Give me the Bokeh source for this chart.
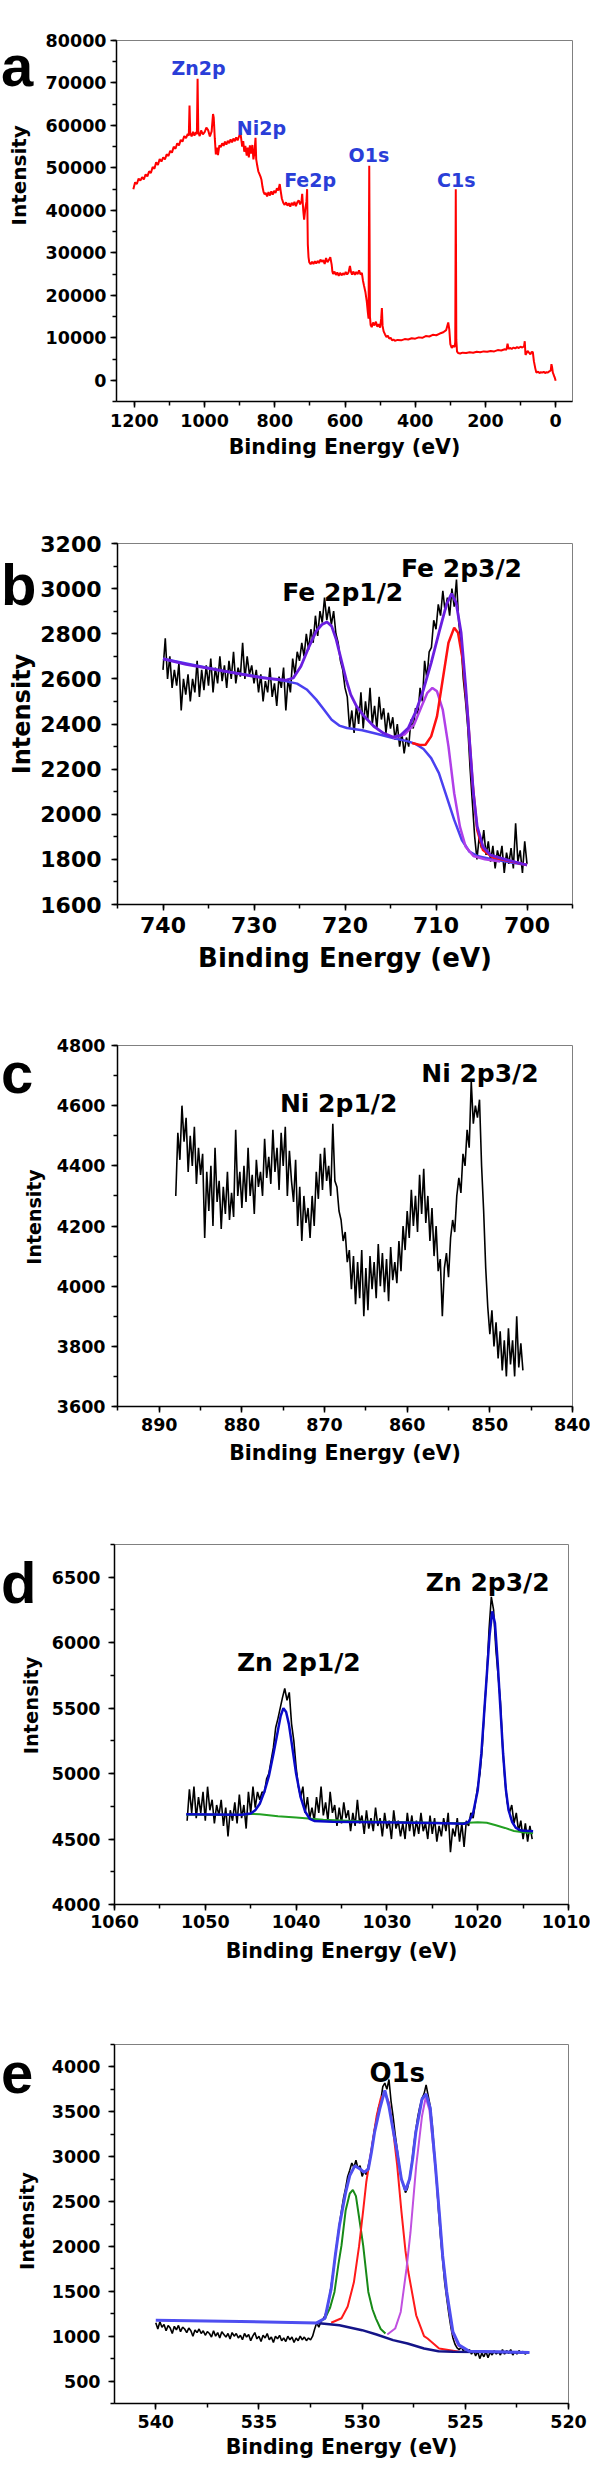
import math
import numpy as np
from bokeh.plotting import figure
from bokeh.models import Range1d, SingleIntervalTicker, BasicTickFormatter
from bokeh.layouts import column, row
from bokeh.core.properties import value
from bokeh.embed import file_html
from bokeh.resources import INLINE

# ---------------------------------------------------------------- data
# (a) survey spectrum
a_energy = [
    1203, 1198, 1193, 1188, 1183, 1178, 1173, 1168, 1163, 1158,
    1153, 1148, 1143, 1138, 1133, 1128, 1123, 1118, 1113, 1108,
    1103, 1098, 1093, 1088, 1083, 1078, 1073, 1068, 1063, 1058,
    1053, 1048, 1045, 1043, 1041, 1037, 1033, 1029, 1025, 1022,
    1020, 1018, 1014, 1010, 1005, 1000, 995, 990, 985, 980,
    976, 974, 971, 968, 965, 962, 958, 954, 950, 946,
    942, 938, 934, 930, 926, 922, 918, 914, 910, 906,
    902, 898, 896, 893, 890, 887, 884, 880, 877, 874,
    871, 868, 864, 861, 858, 855, 853, 850, 847, 844,
    841, 838, 835, 832, 829, 826, 822, 818, 814, 810,
    806, 802, 798, 794, 790, 786, 783, 780, 776, 772,
    768, 764, 760, 756, 752, 748, 744, 740, 736, 732,
    728, 724, 722, 719, 716.5, 713, 710, 708, 706, 704,
    702, 698, 694, 690, 686, 682, 678, 674, 670, 666,
    662, 658, 654, 650, 646, 642, 638, 636, 634, 630,
    626, 622, 618, 614, 610, 606, 602, 598, 594, 590,
    586, 583, 580, 576, 572, 568, 564, 560, 556, 552,
    549, 546, 542, 538, 535, 533, 531, 529, 527, 524,
    520, 516, 512, 508, 504, 500, 497, 495, 493, 490,
    486, 482, 478, 474, 470, 466, 462, 458, 450, 440,
    430, 420, 410, 400, 390, 380, 370, 360, 350, 340,
    330, 320, 312, 306, 303, 300, 296, 292, 288, 286,
    284.5, 283, 281, 278, 272, 265, 255, 245, 235, 225,
    215, 205, 195, 185, 175, 165, 155, 145, 140, 137,
    134, 130, 125, 120, 115, 110, 105, 100, 95, 90,
    88, 86, 84, 80, 76, 72, 68, 65, 62, 58,
    55, 50, 46, 42, 38, 34, 30, 26, 22, 18,
    14, 12, 10, 8, 6, 4, 2, 0,
]
a_intensity = [
    45000, 46600, 46200, 47500, 47000, 47800, 47300, 48500, 48000, 49200,
    48800, 50200, 49800, 51300, 50700, 52100, 51500, 52500, 52000, 53200,
    52800, 54000, 53600, 55000, 54500, 55800, 55300, 56600, 56200, 57500,
    57000, 58000, 57600, 64700, 58200, 57400, 58500, 57600, 58400, 57900,
    71000, 58400, 57500, 58800, 57900, 58400, 59500, 58900, 57400, 58600,
    62700, 61800, 57000, 53200, 54800, 53000, 55300, 54900, 55800, 55200,
    56200, 55500, 56400, 55800, 56700, 56000, 56900, 56300, 57200, 56500,
    57400, 58300, 57000, 55000, 56300, 53800, 55200, 52900, 54800, 52500,
    55300, 53400, 55400, 52000, 53600, 57100, 52000, 50500, 49200, 48600,
    48000, 47200, 45500, 44300, 43800, 44100, 43300, 44300, 43500, 44500,
    43700, 44600, 44100, 45200, 44700, 46200, 44400, 42800, 41800, 41300,
    41900, 41100, 41700, 40900, 41800, 41200, 42000, 41000, 41900, 42400,
    41400, 42200, 43900, 40000, 37800, 40500, 42000, 45000, 32000, 29000,
    27800, 27300, 27900, 27400, 28000, 27500, 28100, 27600, 28400, 27900,
    28300, 27400, 28800, 27800, 28300, 29000, 27200, 25600, 25000, 25600,
    24800, 25400, 24600, 25300, 24700, 25200, 24800, 25500, 24900, 25400,
    26900, 25500, 24900, 25600, 24800, 25500, 25000, 25900, 24900, 25300,
    23500, 22300, 20800, 18500, 16000, 14500, 50500, 15000, 13000, 12500,
    13600, 12900, 13800, 12600, 13200, 12400, 14500, 17000, 12800, 11500,
    10800, 10200, 10500, 9800, 10000, 9400, 9600, 9300, 9500, 9400,
    9700, 9600, 9900, 9800, 10100, 10000, 10400, 10300, 10700, 10600,
    11000, 11300, 11800, 13600, 12000, 8500, 7600, 8200, 7800, 9000,
    45000, 9500, 6800, 6400, 6300, 6500, 6400, 6600, 6500, 6700,
    6600, 6800, 6700, 6900, 6800, 7100, 7000, 7300, 7200, 8600,
    7400, 7600, 7400, 7700, 7500, 7800, 7600, 7900, 7700, 8000,
    9200, 6000, 6200, 6900, 6500, 6100, 6700, 6600, 4500, 2800,
    1800, 2000, 1700, 1900, 1800, 2000, 1700, 1900, 1800, 2100,
    2300, 3800, 3000, 1800, 1400, 900, 500, -100,
]
a_peak_names = ["Zn2p", "Ni2p", "Fe2p", "O1s", "C1s"]
a_peak_energy = [1017.2, 838.3, 699.5, 532.0, 282.9]
a_peak_level = [73570, 59430, 47260, 53150, 47260]

# (b) Fe 2p: raw counts, 740 -> 700 eV every 0.25 eV
b_start, b_stop = 740.0, 700.0
b_counts = [
    2640, 2780, 2600, 2700, 2560, 2640, 2570, 2670, 2460, 2600,
    2530, 2620, 2500, 2600, 2540, 2680, 2520, 2640, 2550, 2660,
    2570, 2690, 2540, 2650, 2580, 2700, 2590, 2660, 2560, 2680,
    2600, 2720, 2580, 2650, 2610, 2760, 2600, 2700, 2620, 2660,
    2580, 2640, 2540, 2620, 2500, 2590, 2540, 2650, 2520, 2580,
    2480, 2610, 2560, 2650, 2460, 2600, 2540, 2690, 2620, 2720,
    2680, 2760, 2700, 2800, 2730, 2820, 2760, 2880, 2790, 2900,
    2850, 2960, 2860, 2920, 2840, 2900, 2800, 2760, 2680, 2640,
    2560, 2520, 2380, 2460, 2360, 2480, 2400, 2540, 2380, 2500,
    2420, 2560, 2400, 2480, 2380, 2520, 2420, 2470, 2360, 2450,
    2380, 2430, 2330, 2400, 2300, 2360, 2270, 2340, 2300, 2420,
    2380, 2470, 2440, 2560, 2500, 2680, 2600, 2720, 2740, 2860,
    2820, 2930, 2880, 2990, 2900, 2960, 2880, 3000, 2920, 3040,
    2850, 2760, 2600, 2500, 2380, 2200, 2050, 1900, 1800, 1900,
    1850, 1930, 1820, 1880, 1790, 1860, 1760, 1840, 1800, 1860,
    1740, 1830, 1780, 1850, 1760, 1960, 1790, 1840, 1740, 1880,
    1780,
]
b_env_e = [740.0, 737.47, 733.26, 729.05, 726.53, 725.68, 724.84, 724.0, 723.16, 722.53,
           721.98, 721.47, 720.97, 720.42, 719.87, 719.37, 718.74, 717.89, 716.84, 715.79,
           714.74, 713.89, 713.05, 712.21, 711.37, 710.53, 709.68, 708.84, 708.29, 707.79,
           707.24, 706.74, 706.32, 705.89, 705.47, 704.84, 704.0, 702.11, 700.0]
b_env_i = [2689, 2664, 2634, 2604, 2594, 2604, 2656, 2738, 2812, 2841,
           2852, 2834, 2775, 2686, 2597, 2530, 2479, 2434, 2390, 2360,
           2342, 2350, 2382, 2456, 2553, 2671, 2804, 2930, 2978, 2938,
           2804, 2567, 2330, 2093, 1945, 1856, 1819, 1797, 1775]
b_bg_e = [740.0, 733.26, 726.53, 725.26, 724.21, 723.16, 722.32, 721.47, 720.63, 719.79,
          718.11, 716.42, 714.74, 713.05, 712.21, 711.37, 710.53, 709.68, 708.84, 708.0,
          707.16, 706.32, 705.47, 703.79, 700.0]
b_bg_i = [2689, 2634, 2590, 2579, 2553, 2508, 2464, 2419, 2393, 2382,
          2372, 2356, 2338, 2323, 2311, 2289, 2249, 2182, 2079, 1975,
          1886, 1834, 1815, 1800, 1775]
b_main_e = [712.63, 711.79, 711.16, 710.53, 709.89, 709.26, 708.63, 708.0, 707.58, 707.07,
            706.53, 705.98, 705.47, 704.84, 703.79, 700.0]
b_main_i = [2316, 2307, 2308, 2345, 2434, 2597, 2760, 2827, 2804, 2686,
            2449, 2138, 1930, 1841, 1809, 1775]
b_sat_e = [714.74, 713.47, 712.42, 711.58, 710.95, 710.4, 709.89, 709.26, 708.63, 708.0,
           707.37, 706.74, 705.89, 704.63, 702.95]
b_sat_i = [2338, 2353, 2397, 2479, 2538, 2560, 2545, 2464, 2301, 2093,
           1945, 1856, 1815, 1800, 1790]

# (c) Ni 2p: raw counts, 888 -> 846 eV every 0.25 eV
c_start, c_stop = 888.0, 846.0
c_counts = [
    4300, 4510, 4420, 4600, 4480, 4560, 4380, 4500, 4400, 4530,
    4340, 4460, 4370, 4440, 4160, 4380, 4250, 4400, 4200, 4460,
    4280, 4350, 4190, 4330, 4240, 4380, 4220, 4310, 4230, 4520,
    4300, 4380, 4260, 4400, 4280, 4460, 4300, 4370, 4240, 4420,
    4330, 4380, 4300, 4490, 4360, 4430, 4340, 4520, 4380, 4460,
    4320, 4510, 4400, 4530, 4300, 4450, 4350, 4280, 4420, 4200,
    4330, 4150, 4300, 4210, 4260, 4160, 4300, 4200, 4380, 4290,
    4440, 4320, 4460, 4350, 4400, 4300, 4540, 4350, 4330, 4250,
    4220, 4150, 4180, 4080, 4120, 3990, 4100, 3940, 4080, 3960,
    4120, 3900, 4060, 3920, 4100, 3990, 4080, 3960, 4140, 4000,
    4110, 3980, 4090, 3950, 4130, 4020, 4080, 4010, 4150, 4050,
    4200, 4120, 4250, 4160, 4320, 4200, 4300, 4180, 4370, 4240,
    4390, 4210, 4300, 4150, 4260, 4100, 4200, 4050, 4090, 3900,
    4060, 4110, 4030, 4160, 4220, 4180, 4300, 4360, 4310, 4440,
    4400, 4520, 4460, 4680, 4540, 4600, 4560, 4620, 4400, 4250,
    4060, 3930, 3840, 3920, 3800, 3880, 3760, 3850, 3720, 3820,
    3700, 3860, 3740, 3820, 3700, 3900, 3730, 3810, 3720,
]

# (d) Zn 2p: raw counts, 1052 -> 1014 eV every 0.25 eV
d_start, d_stop = 1052.0, 1014.0
d_counts = [
    4640, 4880, 4700, 4900, 4660, 4820, 4700, 4860, 4640, 4900,
    4720, 4800, 4620, 4760, 4680, 4800, 4600, 4740, 4520, 4720,
    4640, 4780, 4620, 4840, 4660, 4760, 4580, 4860, 4700, 4900,
    4740, 4860, 4800, 4860, 4850, 4960, 5000, 5100, 5200, 5350,
    5420, 5500, 5580, 5650, 5560, 5620, 5380, 5250, 5050, 4900,
    4820, 4900, 4700, 4820, 4660, 4740, 4640, 4820, 4700, 4900,
    4680, 4780, 4640, 4860, 4700, 4760, 4600, 4740, 4620, 4780,
    4660, 4720, 4560, 4700, 4600, 4800, 4620, 4680, 4540, 4720,
    4580, 4660, 4560, 4740, 4600, 4660, 4520, 4700, 4580, 4640,
    4500, 4720, 4580, 4640, 4520, 4620, 4500, 4700, 4560, 4680,
    4520, 4640, 4540, 4700, 4560, 4620, 4500, 4680, 4540, 4660,
    4480, 4600, 4520, 4660, 4560, 4700, 4400, 4580, 4520, 4660,
    4480, 4620, 4440, 4640, 4600, 4700, 4660, 4780, 4900, 5000,
    5200, 5500, 5750, 6100, 6350, 6250, 5950, 5750, 5550, 5200,
    4950, 4780, 4700, 4760, 4620, 4700, 4560, 4640, 4500, 4620,
    4480, 4600, 4500,
]
d_fit_e = [1052.1, 1049.0, 1046.0, 1045.0, 1044.5, 1044.0, 1043.5, 1043.0, 1042.5, 1042.0,
           1041.7, 1041.4, 1041.1, 1040.8, 1040.5, 1040.0, 1039.5, 1039.0, 1038.5, 1038.0,
           1036.0, 1031.0, 1025.0, 1021.5, 1021.0, 1020.5, 1020.0, 1019.6, 1019.3, 1019.0,
           1018.7, 1018.4, 1018.1, 1017.8, 1017.5, 1017.2, 1016.9, 1016.6, 1016.2, 1015.8,
           1015.2, 1013.9]
d_fit_i = [4690, 4688, 4686, 4695, 4720, 4770, 4860, 4980, 5150, 5330,
           5440, 5500, 5470, 5380, 5240, 5000, 4820, 4710, 4655, 4638,
           4633, 4628, 4622, 4617, 4630, 4700, 4870, 5150, 5450, 5750,
           6050, 6240, 6150, 5850, 5500, 5150, 4880, 4720, 4630, 4585,
           4565, 4560]
d_bg_e = [1052.1, 1046.0, 1045.0, 1044.0, 1042.0, 1040.0, 1037.0, 1033.0, 1028.0, 1022.0,
          1021.0, 1020.0, 1019.0, 1018.0, 1017.0, 1016.0, 1015.0, 1013.9]
d_bg_i = [4686, 4686, 4692, 4690, 4675, 4664, 4648, 4635, 4628, 4620,
          4625, 4628, 4624, 4605, 4585, 4562, 4552, 4545]

# (e) O 1s: raw counts, 540 -> 522 eV every 0.1 eV
e_start, e_stop = 540.0, 522.0
e_counts = [
    1150, 1080, 1160, 1100, 1130, 1060, 1120, 1090, 1030, 1110,
    1070, 1120, 1050, 1100, 1080, 1040, 1090, 1060, 1000, 1070,
    1040, 1080, 1030, 1060, 1010, 1050, 1030, 990, 1060, 1000,
    1040, 980, 1050, 1020, 990, 1030, 970, 1040, 1000, 1030,
    980, 1010, 960, 1030, 990, 1020, 950, 1000, 1040, 970,
    1000, 940, 1010, 980, 1030, 960, 990, 930, 1000, 970,
    1010, 950, 980, 940, 1000, 960, 990, 930, 980, 950,
    1000, 960, 990, 950, 980, 960, 1000, 1080, 1150, 1100,
    1160, 1190, 1230, 1300, 1420, 1560, 1720, 1900, 2080, 2250,
    2400, 2540, 2650, 2780, 2850, 2930, 2880, 2960, 2870, 2900,
    2780, 2840, 2800, 2900, 3000, 3150, 3300, 3420, 3550, 3620,
    3780, 3820, 3750, 3860, 3620, 3450, 3250, 3080, 2900, 2760,
    2680, 2600, 2650, 2760, 2920, 3120, 3300, 3450, 3560, 3650,
    3700, 3800, 3680, 3560, 3350, 3050, 2750, 2400, 2100, 1850,
    1600, 1420, 1250, 1100, 980, 910, 870, 850, 880, 840,
    860, 830, 850, 800, 840, 780, 830, 750, 810, 770,
    830, 760, 820, 790, 840, 800, 830, 790, 850, 800,
    840, 810, 850, 790, 830, 800, 840, 810, 830, 800,
    820,
]
e_env_e = [540.0, 535.9, 532.2, 531.8, 531.5, 531.3, 531.1, 530.8, 530.6, 530.35,
           530.1, 529.9, 529.7, 529.55, 529.4, 529.15, 528.9, 528.7, 528.5, 528.3,
           528.1, 527.9, 527.7, 527.55, 527.4, 527.1, 526.9, 526.7, 526.45, 526.25,
           526.1, 525.9, 525.6, 525.3, 524.8, 521.9]
e_env_i = [1178, 1163, 1148, 1200, 1530, 1900, 2233, 2600, 2789, 2900,
           2863, 2826, 2863, 3050, 3270, 3530, 3740, 3560, 3300, 3048,
           2752, 2622, 2752, 2980, 3270, 3640, 3700, 3540, 2900, 2344,
           1900, 1493, 1048, 900, 833, 819]
e_g_e = [532.2, 531.8, 531.55, 531.34, 531.15, 531.0, 530.8, 530.6, 530.45, 530.3,
         530.1, 529.95, 529.7, 529.5, 529.33, 529.1, 528.87]
e_g_i = [1148, 1196, 1320, 1493, 1800, 2011, 2400, 2590, 2630, 2560,
         2250, 2011, 1493, 1300, 1196, 1080, 1030]
e_r_e = [531.5, 531.0, 530.7, 530.4, 530.15, 529.95, 529.8, 529.5, 529.3, 529.1,
         528.9, 528.7, 528.5, 528.3, 528.1, 527.9, 527.76, 527.38, 527.0, 526.83,
         526.27, 525.3]
e_r_i = [1150, 1200, 1330, 1600, 2000, 2400, 2715, 3150, 3450, 3650,
         3715, 3600, 3300, 2900, 2400, 1950, 1715, 1233, 1000, 974,
         863, 826]
e_m_e = [528.78, 528.4, 528.13, 527.85, 527.66, 527.38, 527.1, 526.92, 526.74, 526.45,
         526.25, 526.1, 525.9, 525.62, 525.34, 524.8]
e_m_i = [1019, 1085, 1270, 1752, 2150, 2900, 3450, 3660, 3520, 2880,
         2330, 1900, 1480, 1040, 895, 833]
e_bg_e = [532.2, 531.1, 530.0, 529.3, 528.5, 527.8, 527.0, 526.3, 525.6, 521.9]
e_bg_i = [1148, 1122, 1067, 1019, 956, 919, 863, 833, 826, 819]

# ---------------------------------------------------------------- styling
FONT = "DejaVu Sans"
LETTER_FONT = "Liberation Sans"
PAGE_W = 590


def make_fig(width, height, x_range, y_range, left, frame_w, top, bottom,
             xtick, ytick, tick_size, x_off, y_off, xlab_size, xlab_off):
    p = figure(width=width, height=height, title=None,
               x_range=Range1d(*x_range), y_range=Range1d(*y_range),
               output_backend="svg", toolbar_location=None,
               min_border_left=left, min_border_right=width - left - frame_w,
               min_border_top=top, min_border_bottom=bottom)
    p.grid.visible = False
    p.outline_line_color = "#808080"
    p.outline_line_width = 1
    p.background_fill_color = "white"
    p.border_fill_color = "white"
    p.xaxis.ticker = SingleIntervalTicker(interval=xtick, num_minor_ticks=2)
    p.yaxis.ticker = SingleIntervalTicker(interval=ytick, num_minor_ticks=2)
    p.yaxis.formatter = BasicTickFormatter(use_scientific=False)
    p.xaxis.formatter = BasicTickFormatter(use_scientific=False)
    for ax in p.axis:
        ax.axis_line_color = "black"
        ax.axis_line_width = 1.5
        ax.major_tick_line_color = "black"
        ax.major_tick_line_width = 1.5
        ax.minor_tick_line_color = "black"
        ax.minor_tick_line_width = 1.5
        ax.major_tick_in = 0
        ax.major_tick_out = 6
        ax.minor_tick_in = 0
        ax.minor_tick_out = 4
        ax.major_label_text_font = FONT
        ax.major_label_text_font_style = "bold"
        ax.major_label_text_font_size = f"{tick_size}px"
        ax.major_label_text_color = "black"
    p.xaxis.major_label_standoff = x_off
    p.yaxis.major_label_standoff = y_off
    p.xaxis.axis_label = "Binding Energy (eV)"
    p.xaxis.axis_label_text_font = FONT
    p.xaxis.axis_label_text_font_style = "bold"
    p.xaxis.axis_label_text_font_size = f"{xlab_size}px"
    p.xaxis.axis_label_text_color = "black"
    p.xaxis.axis_label_standoff = xlab_off
    return p


def text_strip(width, height):
    """Blank canvas (pixel coordinates) that only carries texts."""
    s = figure(width=width, height=height, title=None,
               x_range=Range1d(0, width), y_range=Range1d(0, height),
               output_backend="svg", toolbar_location=None,
               x_axis_location=None, y_axis_location=None,
               min_border_left=0, min_border_right=0,
               min_border_top=0, min_border_bottom=0)
    s.grid.visible = False
    s.outline_line_color = None
    s.background_fill_color = "white"
    s.border_fill_color = "white"
    return s


def put(p, x, y, text, size, color="black", angle=0.0, font=FONT,
        align="center"):
    p.text(x=[x], y=[y], text=[text], text_font=value(font),
           text_font_style="bold", text_font_size=value(f"{size}px"),
           text_color=color, text_align=align, text_baseline="alphabetic",
           angle=angle)


def panel(main, height, left_w, letter, letter_xy, ylab_xy, ylab_size):
    side = text_strip(left_w, height)
    put(side, letter_xy[0], letter_xy[1], letter, 58, font=LETTER_FONT,
        align="left")
    put(side, ylab_xy[0], ylab_xy[1], "Intensity", ylab_size,
        angle=math.pi / 2)
    return row(side, main, spacing=0)


def grid(start, stop, values):
    return np.linspace(start, stop, len(values))


# ---------------------------------------------------------------- (a)
pa = make_fig(PAGE_W - 42, 482, (1251, -48), (-5000, 80000), 73, 457, 40, 81,
              200, 10000, 17.5, 6, 4, 20.5, 5)
n = min(len(a_energy), len(a_intensity))
pa.line(a_energy[:n], a_intensity[:n], line_color="#ff0000", line_width=2)
for name, ex, ey in zip(a_peak_names, a_peak_energy, a_peak_level):
    put(pa, ex, ey, name, 19, color="#2a3ed8")
panel_a = panel(pa, 482, 42, "a", (0.5, 448), (18, 302), 20)

# ---------------------------------------------------------------- (b)
pb = make_fig(PAGE_W - 37, 505, (745, 695), (1600, 3200), 78, 457, 61, 83,
              10, 200, 22, 6, 10, 26, 7)
pb.line(grid(b_start, b_stop, b_counts), b_counts, line_color="black", line_width=1.6)
pb.line(b_bg_e, b_bg_i, line_color="#4a40f0", line_width=2.5)
pb.line(b_sat_e, b_sat_i, line_color="#b040e8", line_width=2.5)
pb.line(b_main_e, b_main_i, line_color="#ff1010", line_width=2.5)
pb.line(b_env_e, b_env_i, line_color="#6a1ee0", line_width=2.8)
put(pb, 720.25, 2981, "Fe 2p1/2", 25)
put(pb, 707.2, 3088, "Fe 2p3/2", 25)
panel_b = panel(pb, 505, 37, "b", (0.5, 448), (21, 266.5), 24)

# ---------------------------------------------------------------- (c)
pc = make_fig(PAGE_W - 53, 500, (895.05, 840), (3600, 4800), 62, 457, 58, 81,
              10, 200, 17.5, 5, 6, 20.5, 7)
pc.line(grid(c_start, c_stop, c_counts), c_counts, line_color="black", line_width=1.6)
put(pc, 868.3, 4606, "Ni 2p1/2", 25)
put(pc, 851.2, 4708, "Ni 2p3/2", 25)
panel_c = panel(pc, 500, 53, "c", (0.5, 463), (33.6, 262.5), 19)

# ---------------------------------------------------------------- (d)
pd_ = make_fig(PAGE_W - 48, 500, (1060, 1010), (4000, 6750), 64, 456, 57, 83,
               10, 500, 17.5, 4, 8, 20.5, 8)
pd_.line(grid(d_start, d_stop, d_counts), d_counts, line_color="black", line_width=1.6)
pd_.line(d_bg_e, d_bg_i, line_color="#22a022", line_width=2)
pd_.line(d_fit_e, d_fit_i, line_color="#0a0ac8", line_width=2.5)
put(pd_, 1018.9, 6458, "Zn 2p3/2", 25)
put(pd_, 1039.7, 5851, "Zn 2p1/2", 25)
panel_d = panel(pd_, 500, 48, "d", (0.5, 447), (31, 276.5), 19.5)

# ---------------------------------------------------------------- (e)
pe = make_fig(PAGE_W - 48, 478, (542, 520), (250, 4250), 64, 456, 57, 62,
              5, 500, 17.5, 5, 8, 20.5, 4)
pe.line(grid(e_start, e_stop, e_counts), e_counts, line_color="black", line_width=1.6)
pe.line(e_g_e, e_g_i, line_color="#178a17", line_width=2)
pe.line(e_r_e, e_r_i, line_color="#ff1a1a", line_width=2)
pe.line(e_m_e, e_m_i, line_color="#c050e0", line_width=2)
pe.line(e_bg_e, e_bg_i, line_color="#141488", line_width=2.5)
pe.line(e_env_e, e_env_i, line_color="#4e4ef0", line_width=3)
put(pe, 528.3, 3929, "O1s", 26)
panel_e = panel(pe, 478, 48, "e", (0.5, 440), (26.8, 243), 19.5)

layout = column(panel_a, panel_b, panel_c, panel_d, panel_e, spacing=0)
open("out.html", "w").write(file_html(layout, INLINE))
